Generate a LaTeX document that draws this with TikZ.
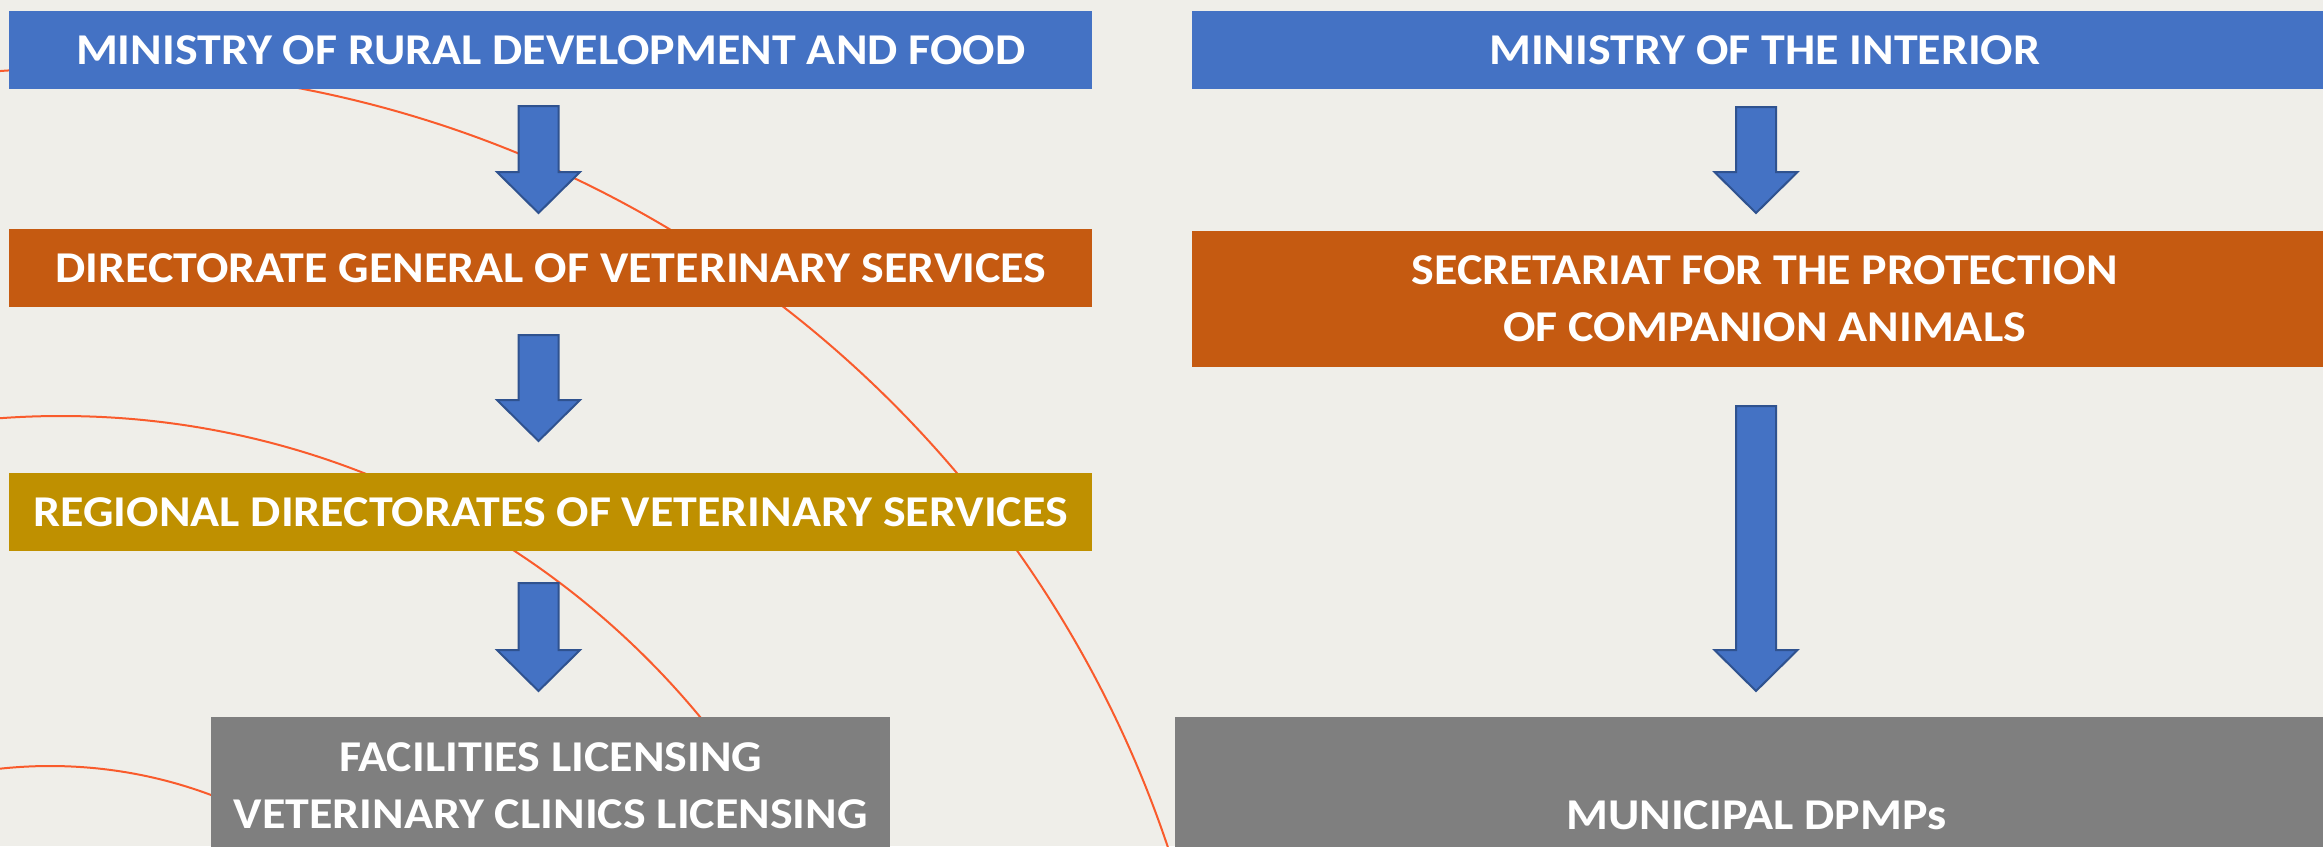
\documentclass[tikz,border=0pt]{standalone}
\usepackage{fontspec}
\setmainfont{Carlito}[FakeStretch=1.09]
\usetikzlibrary{calc}
\definecolor{bgc}{HTML}{EFEEE9}
\definecolor{blueA}{HTML}{4472C4}
\definecolor{blueEdge}{HTML}{2F528F}
\definecolor{orangeA}{HTML}{C55A11}
\definecolor{goldA}{HTML}{BF9000}
\definecolor{greyA}{HTML}{7F7F7F}
\definecolor{curvecol}{HTML}{F95B2C}
\newcommand{\blkarrow}[2]{%
  \path[blockarrow] ([xshift=-20pt]#1) -- ([xshift=-20pt,yshift=41pt]#2) -- ([xshift=-41.5pt,yshift=41pt]#2) -- (#2) -- ([xshift=41.5pt,yshift=41pt]#2) -- ([xshift=20pt,yshift=41pt]#2) -- ([xshift=20pt]#1) -- cycle;}
\begin{document}
\begin{tikzpicture}[x=1pt,y=-1pt,
  box/.style={rectangle, anchor=north west, inner sep=0pt, text=white,
    font=\bfseries\fontsize{44}{57}\selectfont, align=center},
  blockarrow/.style={fill=blueA, draw=blueEdge, line width=2pt, line join=miter},
  curve/.style={draw=curvecol, line width=2pt}]
\fill[bgc] (0,0) rectangle (2323,846);
\useasboundingbox (0,0) rectangle (2323,846);
\begin{scope}
  \clip (0,0) rectangle (2323,846);
  \draw[curve] (84,1211) circle[radius=1143];
  \draw[curve] (61,1245) circle[radius=829];
  \draw[curve] (50,1226) circle[radius=460];
\end{scope}
% left column
\node[box, fill=blueA, minimum width=1083pt, minimum height=78pt] (mrd) at (9,11) {MINISTRY OF RURAL DEVELOPMENT AND FOOD};
\node[box, fill=orangeA, minimum width=1083pt, minimum height=78pt] (dgvs) at (9,229) {DIRECTORATE GENERAL OF VETERINARY SERVICES};
\node[box, fill=goldA, minimum width=1083pt, minimum height=78pt] (rdvs) at (9,473) {REGIONAL DIRECTORATES OF VETERINARY SERVICES};
\node[box, fill=greyA, minimum width=679pt, minimum height=138pt] (fac) at (211,717) {FACILITIES LICENSING\\VETERINARY CLINICS LICENSING};
% right column
\node[box, fill=blueA, minimum width=1145pt, minimum height=78pt] (moi) at (1192,11) {MINISTRY OF THE INTERIOR};
\node[box, fill=orangeA, minimum width=1145pt, minimum height=136pt] (spca) at (1192,231) {SECRETARIAT FOR THE PROTECTION\\OF COMPANION ANIMALS};
\node[box, fill=greyA, minimum width=1162pt, minimum height=196pt] (mun) at (1175,717) {MUNICIPAL DPMPs};
% arrow end points
\coordinate (a1s) at (538.5,106);
\coordinate (a1e) at (538.5,213);
\coordinate (a2s) at (538.5,335);
\coordinate (a2e) at (538.5,441);
\coordinate (a3s) at (538.5,583);
\coordinate (a3e) at (538.5,691);
\coordinate (b1s) at (1756,107);
\coordinate (b1e) at (1756,213);
\coordinate (b2s) at (1756,406);
\coordinate (b2e) at (1756,691);
\blkarrow{a1s}{a1e}
\blkarrow{a2s}{a2e}
\blkarrow{a3s}{a3e}
\blkarrow{b1s}{b1e}
\blkarrow{b2s}{b2e}
\end{tikzpicture}
\end{document}
